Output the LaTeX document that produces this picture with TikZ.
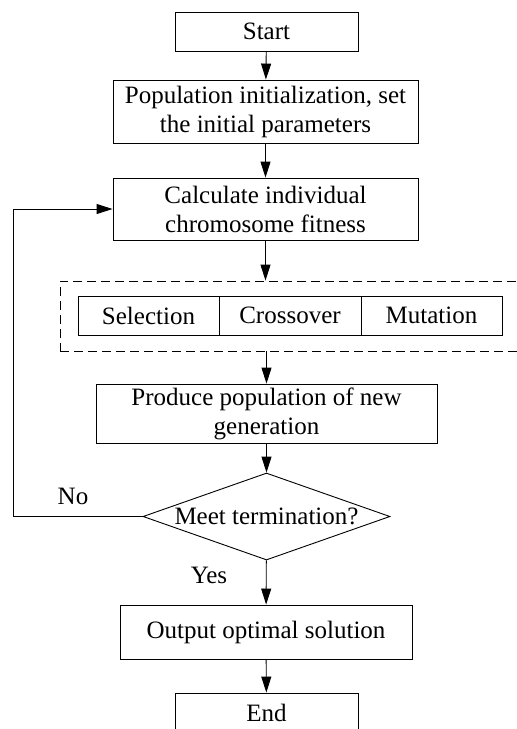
\documentclass[tikz,border=0pt]{standalone}
\usepackage{fontspec}
\setmainfont{LiberationSerif}[Extension=.ttf, UprightFont=*-Regular, BoldFont=*-Bold]
\usetikzlibrary{arrows.meta, shapes.geometric, positioning}
\tikzset{box/.style={draw, line width=0.9pt, align=center, inner sep=0pt,
        font=\fontsize{25}{29}\selectfont},
    arr/.style={line width=0.9pt, -{Triangle[length=16pt,width=10pt]}}}

\begin{document}
\begin{tikzpicture}[x=1pt, y=-1pt]
        \useasboundingbox (0,0) rectangle (517,729);
        \clip (0,0) rectangle (517,729);
        \node[box, minimum width=183, minimum height=39] (start) at (266.5,31.5) {Start};
        \node[box, minimum width=305, minimum height=63] (init) at (265.5,111.5) {Population initialization, set\\the initial parameters};
        \node[box, minimum width=305, minimum height=62] (fit) at (265.5,209) {Calculate individual\\chromosome fitness};
        \node[draw, line width=0.9pt, dash pattern=on 9pt off 5pt, minimum width=480, minimum height=70] (frame) at (300,316) {};
        \node[box, minimum width=141, minimum height=39] (sel) at (148.5,315.5) {Selection};
        \node[box, minimum width=142, minimum height=39, right=-0.9pt of sel] (cross) {Crossover};
        \node[box, minimum width=141, minimum height=39, right=-0.9pt of cross] (mut) {Mutation};
        \node[box, minimum width=341, minimum height=59] (prod) at (266.5,413.5) {Produce population of new\\generation};
        \node[box, diamond, aspect=2.84, text height=15pt, text depth=0pt,
              minimum width=247, minimum height=87] (cond) at (266.5,516.5) {Meet termination?};
        \node[box, minimum width=292, minimum height=54] (out) at (266,632) {Output optimal solution};
        \node[box, minimum width=183, minimum height=39] (end) at (266.5,712.5) {End};
        \coordinate (loop) at (13,516.5);
        \draw[arr] (start) -- (init);
        \draw[arr] (init) -- (fit);
        \draw[arr] (fit.south) -- (fit.south |- frame.north);
        \draw[arr] (cond.south |- frame.south) -- (prod.north);
        \draw[arr] (prod) -- (cond);
        \draw[arr] (cond) -- (out);
        \draw[arr] (out) -- (end);
        \draw[arr] (cond.west) -- (loop) |- (fit.west);
        \node[font=\fontsize{25}{29}\selectfont] (no) at (73,496) {No};
        \node[font=\fontsize{25}{29}\selectfont] (yes) at (209,575) {Yes};
    \end{tikzpicture}
\end{document}
